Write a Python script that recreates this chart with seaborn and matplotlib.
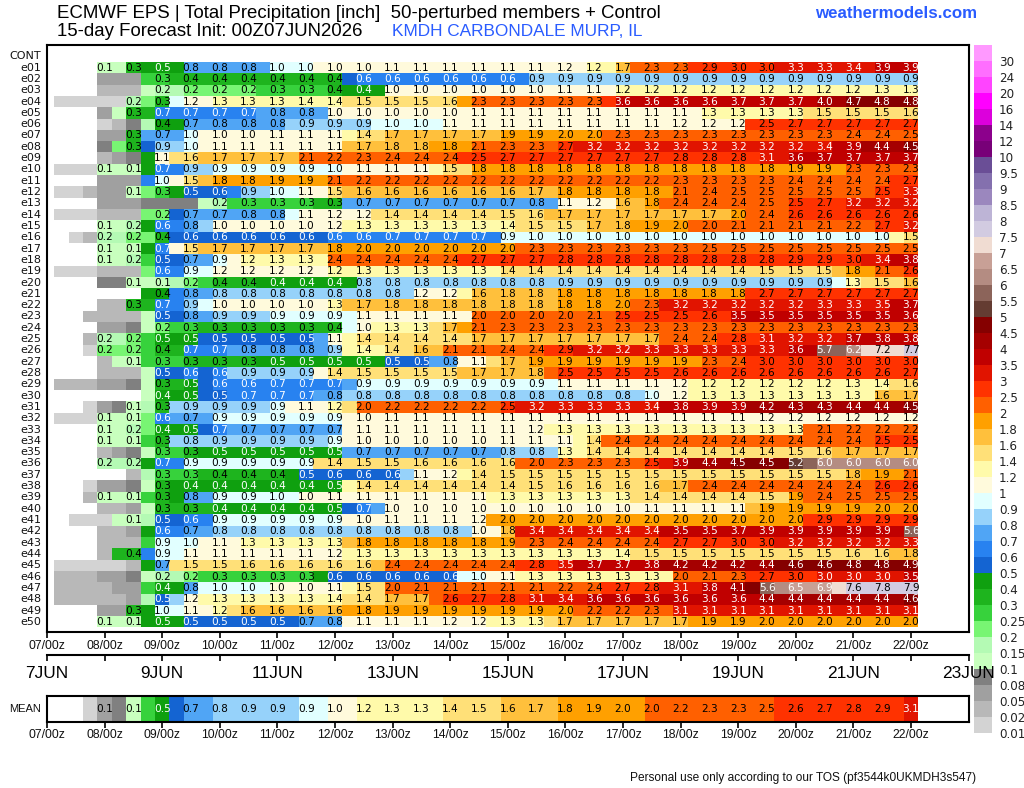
import numpy as np
import pandas as pd
import matplotlib
matplotlib.use("Agg")
import matplotlib.pyplot as plt
from matplotlib.colors import ListedColormap, BoundaryNorm
import seaborn as sns

# Ensemble accumulated precipitation (inch), 6-hourly from 07/06z to 22/00z
e01 = [0,0,0,.12,.14,.31,.42,.47,.49,.77, .78,.78,.78,.78,.79,.97,.98,.99,1.01,1.03, 1.03,1.04,1.06,1.06,1.07,1.07,1.07,1.08,1.08,1.08, 1.08,1.1,1.1,1.1,1.12,1.17,1.18,1.23,1.3,1.66, 2.1,2.3,2.3,2.32,2.7,2.9,2.92,2.96,2.97,2.98, 3.1,3.3,3.3,3.3,3.32,3.4,3.45,3.9,3.9,3.9]
e02 = [0,0,0,.06,.06,.06,.27,.29,.35,.36, .37,.37,.37,.37,.37,.37,.38,.38,.38,.38, .57,.62,.62,.62,.62,.62,.62,.62,.62,.62, .62,.62,.64,.86,.87,.87,.87,.87,.87,.87, .87,.87,.87,.87,.87,.87,.87,.87,.87,.87, .87,.87,.87,.87,.87,.87,.87,.87,.87,.87]
e03 = [0,0,0,.03,.03,.03,.12,.17,.18,.22, .22,.22,.23,.24,.26,.27,.28,.29,.29,.36, .42,.44,.45,1.03,1.03,1.03,1.03,1.03,1.03,1.03, 1.03,1.04,1.04,1.04,1.06,1.07,1.08,1.1,1.14,1.22, 1.21,1.22,1.22,1.22,1.22,1.22,1.22,1.22,1.22,1.23, 1.23,1.23,1.23,1.24,1.24,1.24,1.25,1.26,1.27,1.28]
e04 = [.015,.015,.015,.015,.015,.18,.22,.33,.95,1.17, 1.19,1.27,1.28,1.3,1.3,1.3,1.33,1.37,1.38,1.37, 1.42,1.5,1.5,1.5,1.5,1.5,1.55,1.57,1.85,2.3, 2.3,2.3,2.3,2.3,2.3,2.3,2.3,2.3,2.7,3.6, 3.6,3.6,3.6,3.6,3.6,3.6,3.65,3.7,3.7,3.7, 3.7,3.7,3.8,4.03,4.3,4.7,4.75,4.78,4.8,4.8]
e05 = [0,0,0,.06,.13,.3,.38,.66,.66,.66, .66,.66,.66,.66,.72,.78,.79,.79,.79,1.03, 1.03,1.03,1.03,1.03,1.03,1.03,1.03,1.03,1.03,1.06, 1.06,1.07,1.07,1.08,1.08,1.08,1.08,1.08,1.08,1.08, 1.1,1.1,1.1,1.1,1.1,1.26,1.27,1.28,1.28,1.3, 1.3,1.3,1.42,1.48,1.48,1.5,1.5,1.52,1.55,1.56]
e06 = [0,0,0,.015,.03,.09,.18,.41,.42,.72, .74,.78,.78,.78,.78,.78,.83,.87,.87,.88, .88,.88,.95,.97,.97,.97,.98,1.06,1.06,1.06, 1.06,1.07,1.07,1.07,1.07,1.07,1.08,1.08,1.08,1.08, 1.1,1.1,1.12,1.17,1.17,1.18,1.18,1.19,2.52,2.53, 2.6,2.7,2.7,2.7,2.7,2.7,2.7,2.7,2.7,2.7]
e07 = [0,0,0,.06,.06,.3,.72,.74,.78,.97, 1.02,1.03,1.03,1.04,1.06,1.07,1.08,1.08,1.08,1.1, 1.25,1.42,1.55,1.68,1.7,1.7,1.7,1.7,1.7,1.7, 1.75,1.85,1.87,1.9,1.93,1.97,1.98,1.98,2.1,2.3, 2.3,2.3,2.3,2.3,2.3,2.3,2.3,2.3,2.3,2.3, 2.3,2.3,2.3,2.3,2.35,2.4,2.4,2.4,2.43,2.47]
e08 = [0,0,0,.09,.22,.3,.55,.87,.88,.97, 1.02,1.06,1.06,1.06,1.06,1.06,1.07,1.07,1.07,1.1, 1.65,1.7,1.7,1.77,1.77,1.77,1.8,1.83,1.9,2.1, 2.2,2.3,2.3,2.3,2.4,2.7,3.1,3.2,3.2,3.2, 3.2,3.2,3.2,3.2,3.2,3.2,3.2,3.2,3.2,3.2, 3.2,3.2,3.3,3.44,3.7,3.9,4.1,4.4,4.45,4.52]
e09 = [0,0,0,.03,.06,.09,.45,1.06,1.45,1.58, 1.65,1.7,1.7,1.7,1.7,1.7,1.75,2.1,2.15,2.2, 2.25,2.3,2.35,2.4,2.4,2.4,2.4,2.4,2.5,2.53, 2.6,2.7,2.7,2.7,2.7,2.7,2.7,2.7,2.7,2.7, 2.7,2.7,2.75,2.8,2.8,2.8,2.8,2.8,2.85,3.1, 3.3,3.6,3.65,3.7,3.7,3.7,3.7,3.7,3.7,3.7]
e10 = [.015,.015,.015,.13,.14,.12,.45,.66,.68,.88, .89,.92,.92,.92,.92,.92,.93,.93,.95,.98, 1.05,1.06,1.06,1.08,1.08,1.1,1.25,1.47,1.55,1.83, 1.83,1.83,1.83,1.83,1.83,1.83,1.83,1.83,1.83,1.83, 1.83,1.83,1.83,1.83,1.83,1.83,1.83,1.83,1.83,1.83, 1.85,1.87,1.88,1.9,1.95,2.3,2.3,2.3,2.3,2.3]
e11 = [0,0,0,.06,.06,.06,.65,.98,1.1,1.5, 1.65,1.83,1.83,1.83,1.85,1.87,1.88,1.9,1.95,2.1, 2.15,2.2,2.2,2.2,2.2,2.2,2.2,2.2,2.2,2.2, 2.2,2.2,2.2,2.2,2.2,2.2,2.2,2.2,2.2,2.2, 2.2,2.2,2.25,2.3,2.3,2.3,2.3,2.3,2.3,2.3, 2.35,2.4,2.4,2.4,2.4,2.4,2.4,2.4,2.5,2.7]
e12 = [.015,.015,.03,.06,.06,.12,.22,.27,.45,.54, .58,.58,.6,.87,.88,.97,.99,1.06,1.15,1.46, 1.6,1.63,1.63,1.63,1.63,1.63,1.63,1.63,1.63,1.63, 1.63,1.63,1.66,1.7,1.75,1.83,1.83,1.83,1.83,1.83, 1.83,1.83,1.83,2.1,2.3,2.4,2.43,2.47,2.47,2.47, 2.47,2.47,2.47,2.47,2.47,2.47,2.47,2.53,2.7,3.3]
e13 = [0,0,0,.06,.06,.06,.09,.09,.09,.09, .14,.17,.27,.27,.28,.29,.29,.29,.33,.34, .72,.72,.72,.72,.72,.72,.72,.72,.72,.72, .72,.72,.76,.78,.79,1.06,1.15,1.17,1.19,1.62, 1.65,1.83,2.2,2.4,2.4,2.4,2.4,2.4,2.43,2.47, 2.47,2.53,2.6,2.7,2.9,3.2,3.2,3.2,3.2,3.2]
e14 = [.015,.015,.015,.03,.03,.03,.22,.22,.55,.72, .73,.74,.76,.78,.79,.78,.95,1.06,1.1,1.17, 1.18,1.19,1.42,1.43,1.43,1.43,1.43,1.43,1.44,1.44, 1.45,1.5,1.55,1.58,1.65,1.7,1.7,1.7,1.7,1.7, 1.7,1.7,1.7,1.7,1.7,1.7,1.75,1.97,2.2,2.4, 2.47,2.6,2.6,2.6,2.6,2.6,2.6,2.6,2.6,2.6]
e15 = [0,0,0,.12,.14,.18,.45,.62,.68,.78, .85,1.02,1.03,1.03,1.03,1.03,1.03,1.03,1.1,1.17, 1.2,1.26,1.26,1.26,1.27,1.27,1.28,1.28,1.28,1.3, 1.35,1.37,1.42,1.46,1.48,1.5,1.55,1.67,1.7,1.77, 1.85,1.87,1.95,1.97,2.03,2.03,2.05,2.1,2.1,2.1, 2.1,2.1,2.1,2.1,2.15,2.2,2.3,2.7,2.8,3.2]
e16 = [0,.015,.03,.17,.18,.23,.23,.38,.55,.58, .58,.58,.58,.58,.58,.58,.58,.58,.58,.62, .63,.63,.65,.67,.67,.68,.68,.68,.68,.68, .68,.92,.97,.97,.97,.97,.97,.97,.97,.97, .97,.97,.97,.97,.97,.97,.97,.97,.97,.97, .97,.97,.97,.97,.97,.97,.97,.97,1.25,1.46]
e17 = [0,0,0,.12,.13,.13,.44,.66,1.1,1.46, 1.65,1.67,1.67,1.67,1.67,1.67,1.67,1.67,1.75,1.83, 1.95,1.97,1.97,1.97,1.97,1.97,1.97,1.97,1.97,1.97, 1.97,1.97,2.2,2.3,2.3,2.3,2.3,2.3,2.3,2.3, 2.3,2.3,2.3,2.3,2.4,2.47,2.47,2.47,2.47,2.47, 2.47,2.47,2.47,2.47,2.47,2.47,2.47,2.47,2.47,2.47]
e18 = [0,0,0,.12,.13,.18,.28,.54,.58,.72, .76,.93,1.1,1.23,1.25,1.3,1.3,1.3,1.35,2.4, 2.4,2.4,2.4,2.4,2.4,2.4,2.4,2.4,2.55,2.7, 2.7,2.7,2.7,2.7,2.75,2.8,2.8,2.8,2.8,2.8, 2.8,2.8,2.8,2.8,2.8,2.8,2.8,2.8,2.8,2.8, 2.85,2.9,2.9,2.9,2.95,2.97,3.1,3.4,3.5,3.8]
e19 = [.015,.015,.015,.03,.03,.03,.22,.62,.65,.92, .95,1.17,1.18,1.18,1.18,1.18,1.18,1.18,1.19,1.22, 1.25,1.3,1.3,1.3,1.3,1.3,1.3,1.3,1.3,1.3, 1.37,1.42,1.42,1.42,1.42,1.42,1.42,1.42,1.42,1.42, 1.42,1.42,1.42,1.42,1.42,1.42,1.42,1.42,1.47,1.5, 1.5,1.5,1.5,1.5,1.67,1.83,1.9,2.1,2.2,2.6]
e20 = [0,0,0,.09,.09,.12,.13,.14,.18,.22, .28,.38,.39,.39,.4,.42,.43,.43,.44,.44, .45,.82,.82,.82,.82,.82,.82,.82,.82,.82, .82,.82,.82,.84,.85,.87,.87,.87,.87,.87, .87,.87,.87,.87,.87,.87,.87,.87,.87,.87, .87,.87,.87,.87,.95,1.26,1.42,1.5,1.55,1.62]
e21 = [0,0,0,0,0,0,.44,.41,.65,.78, .79,.82,.82,.82,.82,.82,.82,.82,.82,.82, .82,.82,.82,.82,.82,1.17,1.19,1.19,1.3,1.62, 1.7,1.77,1.77,1.78,1.79,1.83,1.83,1.83,1.83,1.83, 1.83,1.83,1.83,1.83,1.83,1.83,1.83,1.83,2.6,2.7, 2.7,2.7,2.7,2.7,2.7,2.7,2.7,2.7,2.7,2.7]
e22 = [0,0,0,.03,.03,.33,.35,.66,.68,.88, .95,1.03,1.03,1.03,1.03,1.03,1.03,1.03,1.1,1.27, 1.6,1.68,1.75,1.77,1.77,1.77,1.77,1.77,1.77,1.77, 1.77,1.77,1.77,1.77,1.78,1.83,1.83,1.83,1.9,1.97, 2.1,2.3,3.1,3.2,3.2,3.2,3.2,3.2,3.2,3.2, 3.2,3.2,3.25,3.3,3.3,3.3,3.35,3.47,3.55,3.7]
e23 = [0,0,.03,.03,.03,.03,.13,.52,.57,.78, .79,.87,.87,.87,.89,.92,.93,.93,.93,.93, .95,1.06,1.06,1.06,1.07,1.07,1.08,1.08,1.15,2.03, 2.03,2.03,2.03,2.03,2.03,2.03,2.05,2.1,2.2,2.53, 2.53,2.53,2.53,2.53,2.55,2.6,2.9,3.53,3.53,3.53, 3.53,3.53,3.53,3.53,3.53,3.53,3.53,3.53,3.55,3.6]
e24 = [0,0,0,.06,.06,.09,.13,.22,.27,.29, .3,.33,.33,.33,.33,.33,.33,.33,.35,.37, .93,1.03,1.2,1.27,1.28,1.3,1.45,1.66,1.85,2.1, 2.2,2.3,2.3,2.3,2.3,2.3,2.3,2.3,2.3,2.3, 2.3,2.3,2.3,2.3,2.3,2.3,2.3,2.3,2.3,2.3, 2.3,2.3,2.3,2.3,2.3,2.3,2.3,2.3,2.3,2.3]
e25 = [0,0,.03,.18,.18,.23,.28,.47,.48,.48, .52,.53,.53,.53,.53,.53,.54,.54,.75,1.06, 1.3,1.42,1.42,1.42,1.42,1.42,1.42,1.42,1.45,1.67, 1.67,1.67,1.67,1.67,1.67,1.67,1.67,1.67,1.67,1.67, 1.67,1.67,2.2,2.4,2.4,2.4,2.6,2.8,2.9,3.1, 3.15,3.2,3.2,3.2,3.4,3.7,3.75,3.8,3.8,3.8]
e26 = [0,0,.015,.23,.23,.23,.28,.37,.39,.66, .67,.68,.75,.77,.78,.78,.79,.78,.79,.87, 1.2,1.37,1.38,1.42,1.5,1.62,1.75,2.1,2.1,2.1, 2.2,2.4,2.4,2.4,2.5,2.9,3.1,3.2,3.2,3.2, 3.25,3.3,3.3,3.3,3.3,3.3,3.3,3.3,3.3,3.3, 3.4,3.6,3.8,5.7,5.9,6.2,7.1,7.2,7.4,7.7]
e27 = [0,0,0,.03,.13,.14,.28,.29,.29,.32, .33,.33,.33,.33,.4,.47,.48,.48,.48,.49, .49,.49,.49,.53,.54,.54,.75,.78,1.05,1.06, 1.4,1.67,1.7,1.87,1.87,1.9,1.9,1.9,1.9,1.9, 1.9,1.9,1.9,1.9,1.95,2.3,2.3,2.4,2.7,2.96, 2.97,2.97,2.97,2.97,2.97,2.97,2.97,2.97,2.97,2.97]
e28 = [0,0,0,.03,.03,.03,.13,.54,.56,.62, .59,.62,.8,.87,.87,.87,.87,.87,1.1,1.42, 1.45,1.5,1.5,1.5,1.5,1.5,1.5,1.5,1.65,1.67, 1.7,1.7,1.75,1.77,2.4,2.53,2.53,2.53,2.53,2.53, 2.53,2.53,2.6,2.6,2.6,2.6,2.6,2.6,2.6,2.6, 2.6,2.6,2.6,2.6,2.6,2.6,2.6,2.6,2.65,2.7]
e29 = [.03,.03,.03,.06,.06,.09,.13,.33,.36,.47, .55,.62,.63,.64,.65,.66,.66,.67,.67,.67, .78,.92,.92,.92,.92,.92,.92,.92,.92,.92, .92,.92,.92,.92,.98,1.06,1.06,1.06,1.06,1.1, 1.1,1.1,1.12,1.17,1.2,1.23,1.23,1.23,1.23,1.23, 1.23,1.23,1.23,1.23,1.27,1.3,1.35,1.37,1.5,1.58]
e30 = [0,0,0,0,0,0,.13,.43,.46,.47, .52,.54,.6,.67,.68,.68,.69,.69,.7,.76, .82,.82,.82,.82,.82,.82,.82,.82,.82,.82, .82,.82,.82,.82,.82,.82,.82,.82,.82,.82, .85,.97,1.05,1.17,1.2,1.27,1.27,1.27,1.27,1.27, 1.27,1.27,1.27,1.27,1.28,1.3,1.35,1.62,1.65,1.68]
e31 = [0,0,.015,.06,.09,.13,.18,.33,.85,.87, .87,.87,.87,.87,.88,.92,1.05,1.06,1.15,1.23, 1.45,2.03,2.1,2.2,2.2,2.2,2.2,2.2,2.2,2.2, 2.3,2.53,3.1,3.2,3.2,3.3,3.3,3.3,3.3,3.3, 3.35,3.4,3.6,3.8,3.8,3.9,3.9,3.9,4.1,4.2, 4.25,4.3,4.3,4.3,4.35,4.4,4.4,4.4,4.45,4.52]
e32 = [.015,.015,.015,.13,.14,.14,.22,.62,.72,.74, .76,.92,.92,.92,.92,.92,.92,.92,.93,.93, 1.03,1.03,1.03,1.06,1.06,1.06,1.06,1.06,1.06,1.06, 1.06,1.06,1.06,1.06,1.06,1.06,1.06,1.06,1.06,1.06, 1.07,1.07,1.07,1.07,1.08,1.08,1.08,1.08,1.1,1.17, 1.17,1.17,1.17,1.17,1.17,1.17,1.17,1.17,1.17,1.17]
e33 = [0,0,0,.13,.14,.18,.22,.43,.46,.47, .56,.66,.72,.72,.72,.72,.72,.72,.74,.74, 1.03,1.06,1.06,1.06,1.06,1.06,1.06,1.06,1.06,1.06, 1.06,1.06,1.1,1.17,1.2,1.27,1.27,1.27,1.27,1.27, 1.27,1.27,1.27,1.27,1.27,1.27,1.27,1.27,1.27,1.27, 1.27,1.27,2.05,2.1,2.15,2.2,2.2,2.2,2.2,2.2]
e34 = [0,0,0,.13,.13,.14,.28,.33,.82,.82, .85,.87,.87,.87,.87,.87,.87,.87,.88,.92, 1.02,1.03,1.03,1.03,1.03,1.03,1.03,1.03,1.03,1.03, 1.05,1.06,1.06,1.06,1.08,1.1,1.2,1.42,2.2,2.4, 2.4,2.4,2.4,2.4,2.4,2.4,2.4,2.4,2.4,2.4, 2.4,2.4,2.4,2.4,2.4,2.4,2.4,2.53,2.53,2.53]
e35 = [0,0,0,.03,.06,.09,.13,.27,.29,.34, .4,.47,.47,.47,.47,.47,.47,.47,.48,.48, .72,.72,.72,.72,.72,.72,.72,.72,.72,.72, .74,.82,.83,.84,.88,1.27,1.3,1.42,1.42,1.42, 1.42,1.42,1.42,1.42,1.42,1.42,1.42,1.42,1.43,1.44, 1.45,1.5,1.55,1.58,1.65,1.7,1.7,1.7,1.7,1.7]
e36 = [0,0,0,.18,.18,.18,.45,.66,.68,.92, .93,.93,.93,.93,.93,.93,.93,.93,1.46,1.42, 1.45,1.5,1.5,1.5,1.55,1.58,1.58,1.58,1.58,1.58, 1.58,1.58,2.03,2.03,2.2,2.3,2.3,2.3,2.3,2.3, 2.3,2.53,3.1,3.9,4.1,4.4,4.45,4.52,4.52,4.52, 4.8,5.2,5.6,6.03,6.03,6.03,6.03,6.03,6.03,6.03]
e37 = [0,0,0,0,0,.03,.17,.28,.29,.29, .34,.38,.39,.38,.39,.39,.4,.53,.56,.58, .58,.58,.58,.58,.85,1.07,1.15,1.18,1.25,1.42, 1.45,1.5,1.5,1.5,1.5,1.5,1.5,1.5,1.5,1.5, 1.5,1.5,1.5,1.5,1.5,1.5,1.5,1.5,1.5,1.5, 1.5,1.5,1.5,1.5,1.55,1.77,1.85,1.9,1.95,2.1]
e38 = [0,0,.015,.06,.06,.09,.13,.33,.4,.43, .43,.43,.43,.43,.43,.43,.43,.43,.44,.47, 1.3,1.42,1.42,1.42,1.42,1.42,1.42,1.42,1.42,1.42, 1.43,1.43,1.44,1.5,1.55,1.58,1.58,1.58,1.58,1.58, 1.58,1.58,1.6,1.67,2.2,2.4,2.4,2.4,2.4,2.4, 2.4,2.4,2.4,2.4,2.4,2.4,2.45,2.6,2.6,2.6]
e39 = [0,0,.03,.13,.13,.13,.28,.33,.42,.78, .79,.92,.92,.92,.95,.97,.99,1.03,1.05,1.06, 1.08,1.08,1.08,1.08,1.08,1.08,1.08,1.08,1.08,1.08, 1.25,1.27,1.27,1.27,1.27,1.27,1.28,1.28,1.28,1.3, 1.42,1.42,1.42,1.42,1.42,1.42,1.43,1.43,1.47,1.5, 1.55,1.87,2.1,2.4,2.45,2.47,2.47,2.47,2.47,2.47]
e40 = [0,0,0,.03,.03,.06,.13,.33,.33,.33, .38,.42,.42,.42,.42,.42,.42,.42,.44,.47, .56,.66,.75,1.03,1.03,1.03,1.03,1.03,1.03,1.03, 1.03,1.03,1.03,1.03,1.03,1.03,1.03,1.03,1.03,1.03, 1.06,1.08,1.08,1.08,1.08,1.08,1.08,1.08,1.65,1.87, 1.87,1.87,1.87,1.87,1.87,1.87,1.9,1.97,1.97,1.97]
e41 = [0,.015,.015,.015,.13,.14,.17,.52,.57,.62, .64,.92,.92,.92,.92,.92,.92,.92,.92,.92, 1.02,1.03,1.03,1.06,1.06,1.07,1.07,1.08,1.15,1.17, 1.85,1.97,1.97,1.97,1.97,1.97,1.97,1.97,1.97,1.97, 1.97,1.97,1.97,1.97,1.97,1.97,1.97,1.97,1.97,1.97, 1.97,1.97,2.7,2.9,2.9,2.9,2.9,2.9,2.9,2.9]
e42 = [0,0,0,.03,.03,.06,.43,.62,.65,.72, .76,.82,.82,.82,.82,.82,.82,.82,.82,.82, .82,.82,.82,.82,.82,.82,.82,.82,.82,1.02, 1.1,1.77,3.1,3.4,3.4,3.4,3.4,3.4,3.4,3.4, 3.4,3.4,3.53,3.53,3.53,3.53,3.6,3.7,3.8,3.9, 3.9,3.9,3.9,3.9,3.9,3.9,3.9,3.9,3.9,5.6]
e43 = [0,0,0,.03,.03,.03,.28,.92,.95,.97, 1.03,1.06,1.15,1.27,1.27,1.27,1.27,1.27,1.27,1.27, 1.7,1.83,1.83,1.83,1.83,1.83,1.83,1.83,1.83,1.83, 1.85,1.9,2.2,2.3,2.35,2.4,2.4,2.4,2.4,2.4, 2.4,2.4,2.6,2.7,2.7,2.7,2.9,2.97,2.97,2.98, 3.1,3.2,3.2,3.2,3.2,3.2,3.2,3.2,3.25,3.3]
e44 = [0,0,0,.03,.3,.36,.65,.92,.95,1.06, 1.06,1.06,1.06,1.06,1.06,1.06,1.06,1.06,1.15,1.18, 1.23,1.27,1.27,1.27,1.27,1.27,1.27,1.27,1.27,1.27, 1.27,1.27,1.27,1.27,1.27,1.27,1.27,1.27,1.3,1.37, 1.45,1.46,1.46,1.46,1.46,1.46,1.47,1.47,1.47,1.47, 1.47,1.47,1.47,1.47,1.5,1.58,1.58,1.58,1.6,1.77]
e45 = [.015,.015,.015,.015,.015,.03,.45,.72,1.45,1.48, 1.5,1.5,1.55,1.58,1.58,1.58,1.58,1.58,1.58,1.58, 1.58,1.58,1.6,2.4,2.4,2.4,2.4,2.4,2.4,2.4, 2.4,2.4,2.7,2.8,2.9,3.47,3.6,3.7,3.7,3.7, 3.75,3.8,4.1,4.2,4.2,4.2,4.2,4.2,4.3,4.4, 4.55,4.6,4.6,4.6,4.7,4.8,4.8,4.8,4.85,4.9]
e46 = [.03,.03,.03,.06,.06,.09,.13,.17,.19,.22, .27,.29,.29,.29,.29,.29,.29,.29,.43,.57, .57,.57,.57,.57,.57,.58,.58,.58,.95,.98, 1.05,1.06,1.2,1.27,1.27,1.27,1.27,1.27,1.27,1.3, 1.3,1.3,1.35,2.03,2.05,2.1,2.2,2.3,2.6,2.7, 2.8,2.97,2.98,3.03,3.03,3.03,3.03,3.03,3.2,3.5]
e47 = [.03,.03,.03,.03,.06,.06,.28,.43,.45,.77, .92,.98,.98,.98,.99,1.02,1.03,1.03,1.05,1.06, 1.2,1.47,1.55,2.03,2.08,2.1,2.1,2.1,2.1,2.1, 2.1,2.1,2.1,2.1,2.15,2.2,2.3,2.4,2.55,2.7, 2.75,2.8,3.03,3.1,3.3,3.8,3.9,4.1,4.8,5.6, 6.2,6.5,6.6,6.9,7.2,7.6,7.7,7.8,7.85,7.9]
e48 = [.03,.03,.03,.03,.03,.06,.18,.52,.82,1.17, 1.2,1.27,1.27,1.27,1.27,1.27,1.27,1.27,1.3,1.37, 1.42,1.43,1.5,1.67,1.7,1.7,2.3,2.6,2.6,2.7, 2.75,2.8,2.9,3.1,3.3,3.4,3.45,3.6,3.6,3.6, 3.6,3.6,3.6,3.6,3.6,3.6,3.6,3.6,3.6,4.4, 4.4,4.4,4.4,4.4,4.4,4.4,4.4,4.4,4.45,4.6]
e49 = [0,0,0,.06,.06,.33,.42,.98,.99,1.06, 1.15,1.23,1.4,1.63,1.63,1.63,1.63,1.63,1.63,1.63, 1.83,1.83,1.85,1.87,1.87,1.87,1.87,1.87,1.87,1.87, 1.87,1.87,1.87,1.9,1.95,1.97,2.1,2.2,2.2,2.2, 2.25,2.3,2.4,3.1,3.1,3.1,3.1,3.1,3.1,3.1, 3.1,3.1,3.1,3.1,3.1,3.1,3.1,3.1,3.1,3.1]
e50 = [0,0,0,.13,.13,.13,.42,.47,.48,.53, .53,.53,.53,.53,.54,.54,.55,.72,.74,.78, 1.03,1.06,1.07,1.08,1.08,1.08,1.1,1.17,1.17,1.18, 1.25,1.27,1.28,1.3,1.4,1.67,1.67,1.67,1.67,1.67, 1.7,1.7,1.72,1.74,1.85,1.87,1.88,1.9,1.93,1.97, 1.97,1.97,1.97,1.97,1.97,1.97,1.97,1.97,1.97,1.97]
control = [0] * 60
mean_precip = [0,0,.015,.07,.09,.12,.27,.47,.55,.72, .76,.82,.85,.87,.87,.88,.89,.92,.96,1.02, 1.1,1.22,1.25,1.27,1.3,1.32,1.37,1.42,1.46,1.5, 1.55,1.62,1.66,1.7,1.75,1.82,1.86,1.9,1.93,1.97, 1.98,2.03,2.1,2.2,2.25,2.3,2.3,2.33,2.4,2.47, 2.55,2.6,2.65,2.7,2.75,2.8,2.85,2.9,2.95,3.1]

members = [e01,e02,e03,e04,e05,e06,e07,e08,e09,e10,e11,e12,e13,e14,e15,e16,e17,e18,e19,e20,
           e21,e22,e23,e24,e25,e26,e27,e28,e29,e30,e31,e32,e33,e34,e35,e36,e37,e38,e39,e40,
           e41,e42,e43,e44,e45,e46,e47,e48,e49,e50]
row_names = ["CONT"] + [f"e{i:02d}" for i in range(1, 51)]

# Colour classes, lowest first; the first one is the blank class below 0.01
bin_edges = [0, .01, .02, .05, .08, .1, .15, .2, .25, .3, .4, .5, .6, .7, .8, .9, 1, 1.2, 1.4, 1.6, 1.8, 2,
             2.5, 3, 3.5, 4, 4.5, 5, 5.5, 6, 6.5, 7, 7.5, 8, 8.5, 9, 9.5, 10, 12, 14, 16, 20, 24, 30, 1000]
bin_colors = ["#ffffff", "#d3d3d3", "#b8b8b8", "#a0a0a0", "#808080", "#c8ffbe", "#b4fab4", "#78f573", "#37d23c",
              "#1eb41e", "#0fa00f", "#1464d2", "#2882f0", "#50a5f5", "#96d2fa", "#e1ffff", "#fffadc", "#fffaaa",
              "#ffe078", "#ffc03c", "#ffa000", "#ff6000", "#ff3200", "#e11400", "#c00000", "#a50000", "#850000",
              "#643c32", "#8c645a", "#b48c82", "#c8a096", "#f0dcd2", "#d2cbe1", "#bdb4d6", "#9b87be", "#8470ae",
              "#6a4e96", "#780078", "#8c008c", "#dc00dc", "#ff00ff", "#ff44ff", "#ff6eff", "#ff99ff"]
scale_labels = ["0.01", "0.02", "0.05", "0.08", "0.1", "0.15", "0.2", "0.25", "0.3", "0.4", "0.5", "0.6", "0.7",
                "0.8", "0.9", "1", "1.2", "1.4", "1.6", "1.8", "2", "2.5", "3", "3.5", "4", "4.5", "5", "5.5", "6",
                "6.5", "7", "7.5", "8", "8.5", "9", "9.5", "10", "12", "14", "16", "20", "24", "30"]
first_day, last_day = 7, 23

W, H = 1024, 788
SANS = ["Liberation Sans", "DejaVu Sans"]


def box(x0, y0, x1, y1):
    """Axes rectangle from pixel edges measured from the top-left corner."""
    return [x0 / W, 1 - y1 / H, (x1 - x0) / W, (y1 - y0) / H]


def cell_labels(values, minimum):
    """12-hourly value labels: every second column, above a minimum amount."""
    labels = np.full(values.shape, "", dtype=object)
    for r, c in np.ndindex(values.shape):
        if c % 2 == 1 and values[r, c] >= minimum:
            labels[r, c] = f"{values[r, c]:.1f}"
    return labels


def recolor_labels(ax, values):
    """White labels on the dark classes, black on the rest."""
    for t in ax.texts:
        x, y = t.get_position()
        v = values[int(y), int(x)]
        t.set_color("white" if (.42 <= v < .7 or 3 <= v < 7) else "black")


sns.set_theme(style="white")
plt.rcParams["font.family"] = ["DejaVu Sans"]

fig = plt.figure(figsize=(W / 100, H / 100), dpi=100, facecolor="white")
cmap = ListedColormap(bin_colors)
norm = BoundaryNorm(bin_edges, cmap.N)
spine_w = 1.5
day_ticks = [-.5 + 4 * d for d in range(last_day - first_day + 1)]
step_labels = [f"{first_day + d:02d}/00z" for d in range(last_day - first_day)]

# Member table
ax = fig.add_axes(box(47, 45, 968.6, 632))
table = pd.DataFrame([control] + members, index=row_names, dtype=float)
sns.heatmap(table, ax=ax, cmap=cmap, norm=norm, cbar=False, annot=cell_labels(table.values, .1), fmt="",
            annot_kws={"fontsize": 7.6}, xticklabels=False, yticklabels=True)
recolor_labels(ax, table.values)
ax.set_xlim(-.5, 63.5)
ax.set_ylim(51.4, -.5)
ax.set_xlabel("")
ax.set_ylabel("")
ax.set_xticks(day_ticks[:-1], step_labels, fontsize=8.8, family=SANS)
ax.tick_params(axis="x", bottom=True, length=4, width=1.2, pad=1.5, color="black", labelcolor="#111111")
ax.tick_params(axis="y", left=False, length=0, pad=4, labelsize=8, rotation=0, labelcolor="#111111")
for s in ax.spines.values():
    s.set_visible(True)
    s.set_linewidth(spine_w)
    s.set_color("black")

# Date ruler between the table and the mean strip; its labels run over the colour scale
ax_dates = fig.add_axes(box(47, 654.5, 968.6, 672))
ax_dates.set_facecolor("none")
ax_dates.set_zorder(5)
ax_dates.set_xlim(-.5, 63.5)
ax_dates.set_ylim(0, 1)
ax_dates.set_yticks([])
ax_dates.set_xticks(day_ticks)
ax_dates.set_xticklabels([])
ax_dates.tick_params(axis="x", top=True, bottom=False, direction="in", length=4, width=1.2, color="black")
for name, s in ax_dates.spines.items():
    s.set_visible(name == "top")
    s.set_linewidth(spine_w)
    s.set_color("black")
for d in range(0, last_day - first_day + 1, 2):
    ax_dates.text(day_ticks[d], -.08, f"{first_day + d}JUN", ha="center", va="center", fontsize=12.4,
                  family=SANS, color="black", clip_on=False, zorder=10)

# Ensemble mean strip
ax_mean = fig.add_axes(box(47, 696, 968.6, 722))
mean_row = pd.DataFrame([mean_precip], dtype=float)
sns.heatmap(mean_row, ax=ax_mean, cmap=cmap, norm=norm, cbar=False, annot=cell_labels(mean_row.values, .05), fmt="",
            annot_kws={"fontsize": 7.6}, xticklabels=False, yticklabels=False)
recolor_labels(ax_mean, mean_row.values)
ax_mean.set_xlim(-.5, 63.5)
ax_mean.set_ylim(1, 0)
ax_mean.set_xlabel("")
ax_mean.set_ylabel("")
ax_mean.set_xticks(day_ticks[:-1], step_labels, fontsize=8.8, family=SANS)
ax_mean.tick_params(axis="x", bottom=True, length=4, width=1.2, pad=1, color="black", labelcolor="#111111")
for s in ax_mean.spines.values():
    s.set_visible(True)
    s.set_linewidth(spine_w)
    s.set_color("black")
fig.text(9 / W, 1 - 709 / H, "MEAN", ha="left", va="center", fontsize=8, family=SANS, color="#111111")

# Colour scale beside the table
ax_scale = fig.add_axes(box(974, 45, 992, 733))
scale_cells = pd.DataFrame(np.arange(len(bin_colors) - 1, 0, -1).reshape(-1, 1))
sns.heatmap(scale_cells, ax=ax_scale, cmap=ListedColormap(bin_colors),
            vmin=-.5, vmax=len(bin_colors) - .5, cbar=False, xticklabels=False, yticklabels=False)
ax_scale.yaxis.tick_right()
ax_scale.set_yticks(np.arange(1, len(bin_colors)), scale_labels[::-1], fontsize=8.6, rotation=0)
ax_scale.tick_params(axis="y", right=False, left=False, length=0, pad=5, labelcolor="#222222")
ax_scale.set_xlabel("")
ax_scale.set_ylabel("")

# Headings
fig.text(57 / W, 1 - 13 / H, "ECMWF EPS | Total Precipitation [inch]  50-perturbed members + Control",
         ha="left", va="center", fontsize=13.4, family=SANS, color="black")
fig.text(57 / W, 1 - 31 / H, "15-day Forecast Init: 00Z07JUN2026",
         ha="left", va="center", fontsize=13.4, family=SANS, color="black")
fig.text(392 / W, 1 - 31 / H, "KMDH CARBONDALE MURP, IL",
         ha="left", va="center", fontsize=12.4, family=SANS, color="#2a5cff")
fig.text(977 / W, 1 - 14 / H, "weathermodels.com",
         ha="right", va="center", fontsize=12.2, family=SANS, fontweight="bold", color="#2a5cff")
fig.text(976 / W, 1 - 778 / H, "Personal use only according to our TOS (pf3544k0UKMDH3s547)",
         ha="right", va="center", fontsize=8.6, family=SANS, color="#111111")

fig.savefig("out.png", dpi=100)
